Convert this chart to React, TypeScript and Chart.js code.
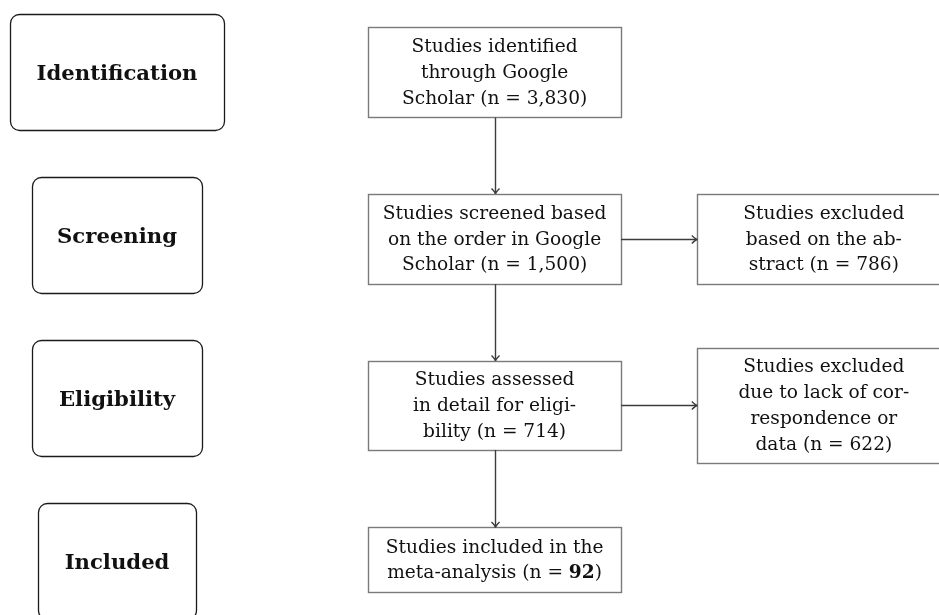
import React, { useEffect, useRef } from "react";
import { Chart, registerables } from "chart.js";

Chart.register(...registerables);

// ---- content ----
const STAGE_LABELS = ["Identification", "Screening", "Eligibility", "Included"];
const STAGE_ROWS = [0, 1, 2, 3];

const MAIN_LINES: string[][] = [
  ["Studies identified", "through Google", "Scholar (n = 3,830)"],
  ["Studies screened based", "on the order in Google", "Scholar (n = 1,500)"],
  ["Studies assessed", "in detail for eligi-", "bility (n = 714)"],
  ["Studies included in the", "meta-analysis (n = *92*)"],
];
const MAIN_ROWS = [0, 1.023, 2.045, 2.994];

const EXCL_LINES: string[][] = [
  ["Studies excluded", "based on the ab-", "stract (n = 786)"],
  ["Studies excluded", "due to lack of cor-", "respondence or", "data (n = 622)"],
];
const EXCL_FROM = [1, 2]; // index of main box each exclusion branches from

const COLUMNS = [0, 1, 1.872]; // stage, main, excluded

// ---- layout / style ----
const STAGE_W = [214, 170, 170, 158];
const STAGE_H = 116;
const BOX_W = 253;
const MAIN_H = [90, 90, 89, 65];
const EXCL_H = [90, 115];
const FONT = "'DejaVu Serif', 'Liberation Serif', serif";
const TEXT_SIZE = 18.6;
const STAGE_SIZE = 21.2;
const LINE_H = 25.8;

function drawRich(ctx: CanvasRenderingContext2D, text: string, cx: number, y: number) {
  const parts = text.split("*");
  const fonts = parts.map((_, i) => (i % 2 === 1 ? "bold " : "") + `${TEXT_SIZE}px ${FONT}`);
  let total = 0;
  parts.forEach((p, i) => {
    ctx.font = fonts[i];
    total += ctx.measureText(p).width;
  });
  let x = cx - total / 2;
  ctx.textAlign = "left";
  parts.forEach((p, i) => {
    ctx.font = fonts[i];
    ctx.fillText(p, x, y);
    x += ctx.measureText(p).width;
  });
}

function roundRect(ctx: CanvasRenderingContext2D, x: number, y: number, w: number, h: number, r: number) {
  ctx.beginPath();
  ctx.moveTo(x + r, y);
  ctx.lineTo(x + w - r, y);
  ctx.arcTo(x + w, y, x + w, y + r, r);
  ctx.lineTo(x + w, y + h - r);
  ctx.arcTo(x + w, y + h, x + w - r, y + h, r);
  ctx.lineTo(x + r, y + h);
  ctx.arcTo(x, y + h, x, y + h - r, r);
  ctx.lineTo(x, y + r);
  ctx.arcTo(x, y, x + r, y, r);
  ctx.closePath();
}

function arrow(ctx: CanvasRenderingContext2D, x1: number, y1: number, x2: number, y2: number) {
  ctx.beginPath();
  ctx.moveTo(x1, y1);
  ctx.lineTo(x2, y2);
  ctx.stroke();
  const a = Math.atan2(y2 - y1, x2 - x1);
  const L = 5.5, S = 4;
  ctx.beginPath();
  ctx.moveTo(x2 - L * Math.cos(a) - S * Math.sin(a), y2 - L * Math.sin(a) + S * Math.cos(a));
  ctx.quadraticCurveTo(x2 - 1.5 * Math.cos(a), y2 - 1.5 * Math.sin(a), x2, y2);
  ctx.quadraticCurveTo(x2 - 1.5 * Math.cos(a), y2 - 1.5 * Math.sin(a),
    x2 - L * Math.cos(a) + S * Math.sin(a), y2 - L * Math.sin(a) - S * Math.cos(a));
  ctx.stroke();
}

const flowPlugin = {
  id: "flow",
  afterDatasetsDraw(chart: any) {
    const ctx: CanvasRenderingContext2D = chart.ctx;
    const xs = chart.scales.x;
    const ys = chart.scales.y;
    const px = (v: number) => xs.getPixelForValue(v);
    const py = (v: number) => ys.getPixelForValue(v);
    const snap = (v: number) => Math.round(v) + 0.5;
    ctx.save();
    ctx.textBaseline = "alphabetic";

    // stage boxes
    STAGE_LABELS.forEach((label, i) => {
      const cx = px(COLUMNS[0]);
      const cy = py(STAGE_ROWS[i]);
      const w = STAGE_W[i];
      ctx.strokeStyle = "#1a1a1a";
      ctx.lineWidth = 1.3;
      roundRect(ctx, snap(cx - w / 2), snap(cy - STAGE_H / 2), Math.round(w), STAGE_H, 9);
      ctx.stroke();
      ctx.fillStyle = "#111";
      ctx.font = `bold ${STAGE_SIZE}px ${FONT}`;
      ctx.textAlign = "center";
      ctx.fillText(label, cx, cy + STAGE_SIZE * 0.36);
    });

    const drawBox = (cx: number, cy: number, h: number, lines: string[]) => {
      ctx.strokeStyle = "#7a7a7a";
      ctx.lineWidth = 1.4;
      ctx.strokeRect(snap(cx - BOX_W / 2), snap(cy - h / 2), BOX_W, Math.round(h));
      ctx.fillStyle = "#111";
      const n = lines.length;
      lines.forEach((t, k) => {
        const y = cy + (k - (n - 1) / 2) * LINE_H + TEXT_SIZE * 0.3;
        drawRich(ctx, t, cx, y);
      });
    };

    // main boxes
    MAIN_LINES.forEach((lines, i) => drawBox(px(COLUMNS[1]), py(MAIN_ROWS[i]), MAIN_H[i], lines));
    // excluded boxes
    EXCL_LINES.forEach((lines, i) => drawBox(px(COLUMNS[2]), py(MAIN_ROWS[EXCL_FROM[i]]), EXCL_H[i], lines));

    // arrows
    ctx.strokeStyle = "#3c3c3c";
    ctx.lineWidth = 1.4;
    const mx = snap(px(COLUMNS[1]));
    for (let i = 0; i < MAIN_LINES.length - 1; i++) {
      const y1 = py(MAIN_ROWS[i]) + MAIN_H[i] / 2;
      const y2 = py(MAIN_ROWS[i + 1]) - MAIN_H[i + 1] / 2;
      arrow(ctx, mx, y1, mx, y2);
    }
    EXCL_FROM.forEach((mi) => {
      const y = snap(py(MAIN_ROWS[mi]));
      arrow(ctx, px(COLUMNS[1]) + BOX_W / 2, y, px(COLUMNS[2]) - BOX_W / 2, y);
    });
    ctx.restore();
  },
};

export default function App() {
  const ref = useRef<HTMLCanvasElement | null>(null);
  useEffect(() => {
    if (!ref.current) return;
    const points = [
      ...STAGE_ROWS.map((r) => ({ x: COLUMNS[0], y: r })),
      ...MAIN_ROWS.map((r) => ({ x: COLUMNS[1], y: r })),
      ...EXCL_FROM.map((m) => ({ x: COLUMNS[2], y: MAIN_ROWS[m] })),
    ];
    const chart = new Chart(ref.current, {
      type: "scatter",
      data: { datasets: [{ data: points, pointRadius: 0, pointHoverRadius: 0 }] },
      options: {
        animation: false,
        responsive: false,
        events: [],
        layout: { padding: 0 },
        plugins: { legend: { display: false }, tooltip: { enabled: false } },
        scales: {
          x: { type: "linear", display: false, min: -0.31, max: 2.177 },
          y: { type: "linear", display: false, min: -0.445, max: 3.332, reverse: true },
        },
      },
      plugins: [flowPlugin],
    });
    return () => chart.destroy();
  }, []);
  return (
    <div style={{ position: "fixed", left: 0, top: 0, width: 939, height: 615, background: "#fff" }}>
      <canvas ref={ref} width={939} height={615} />
    </div>
  );
}
